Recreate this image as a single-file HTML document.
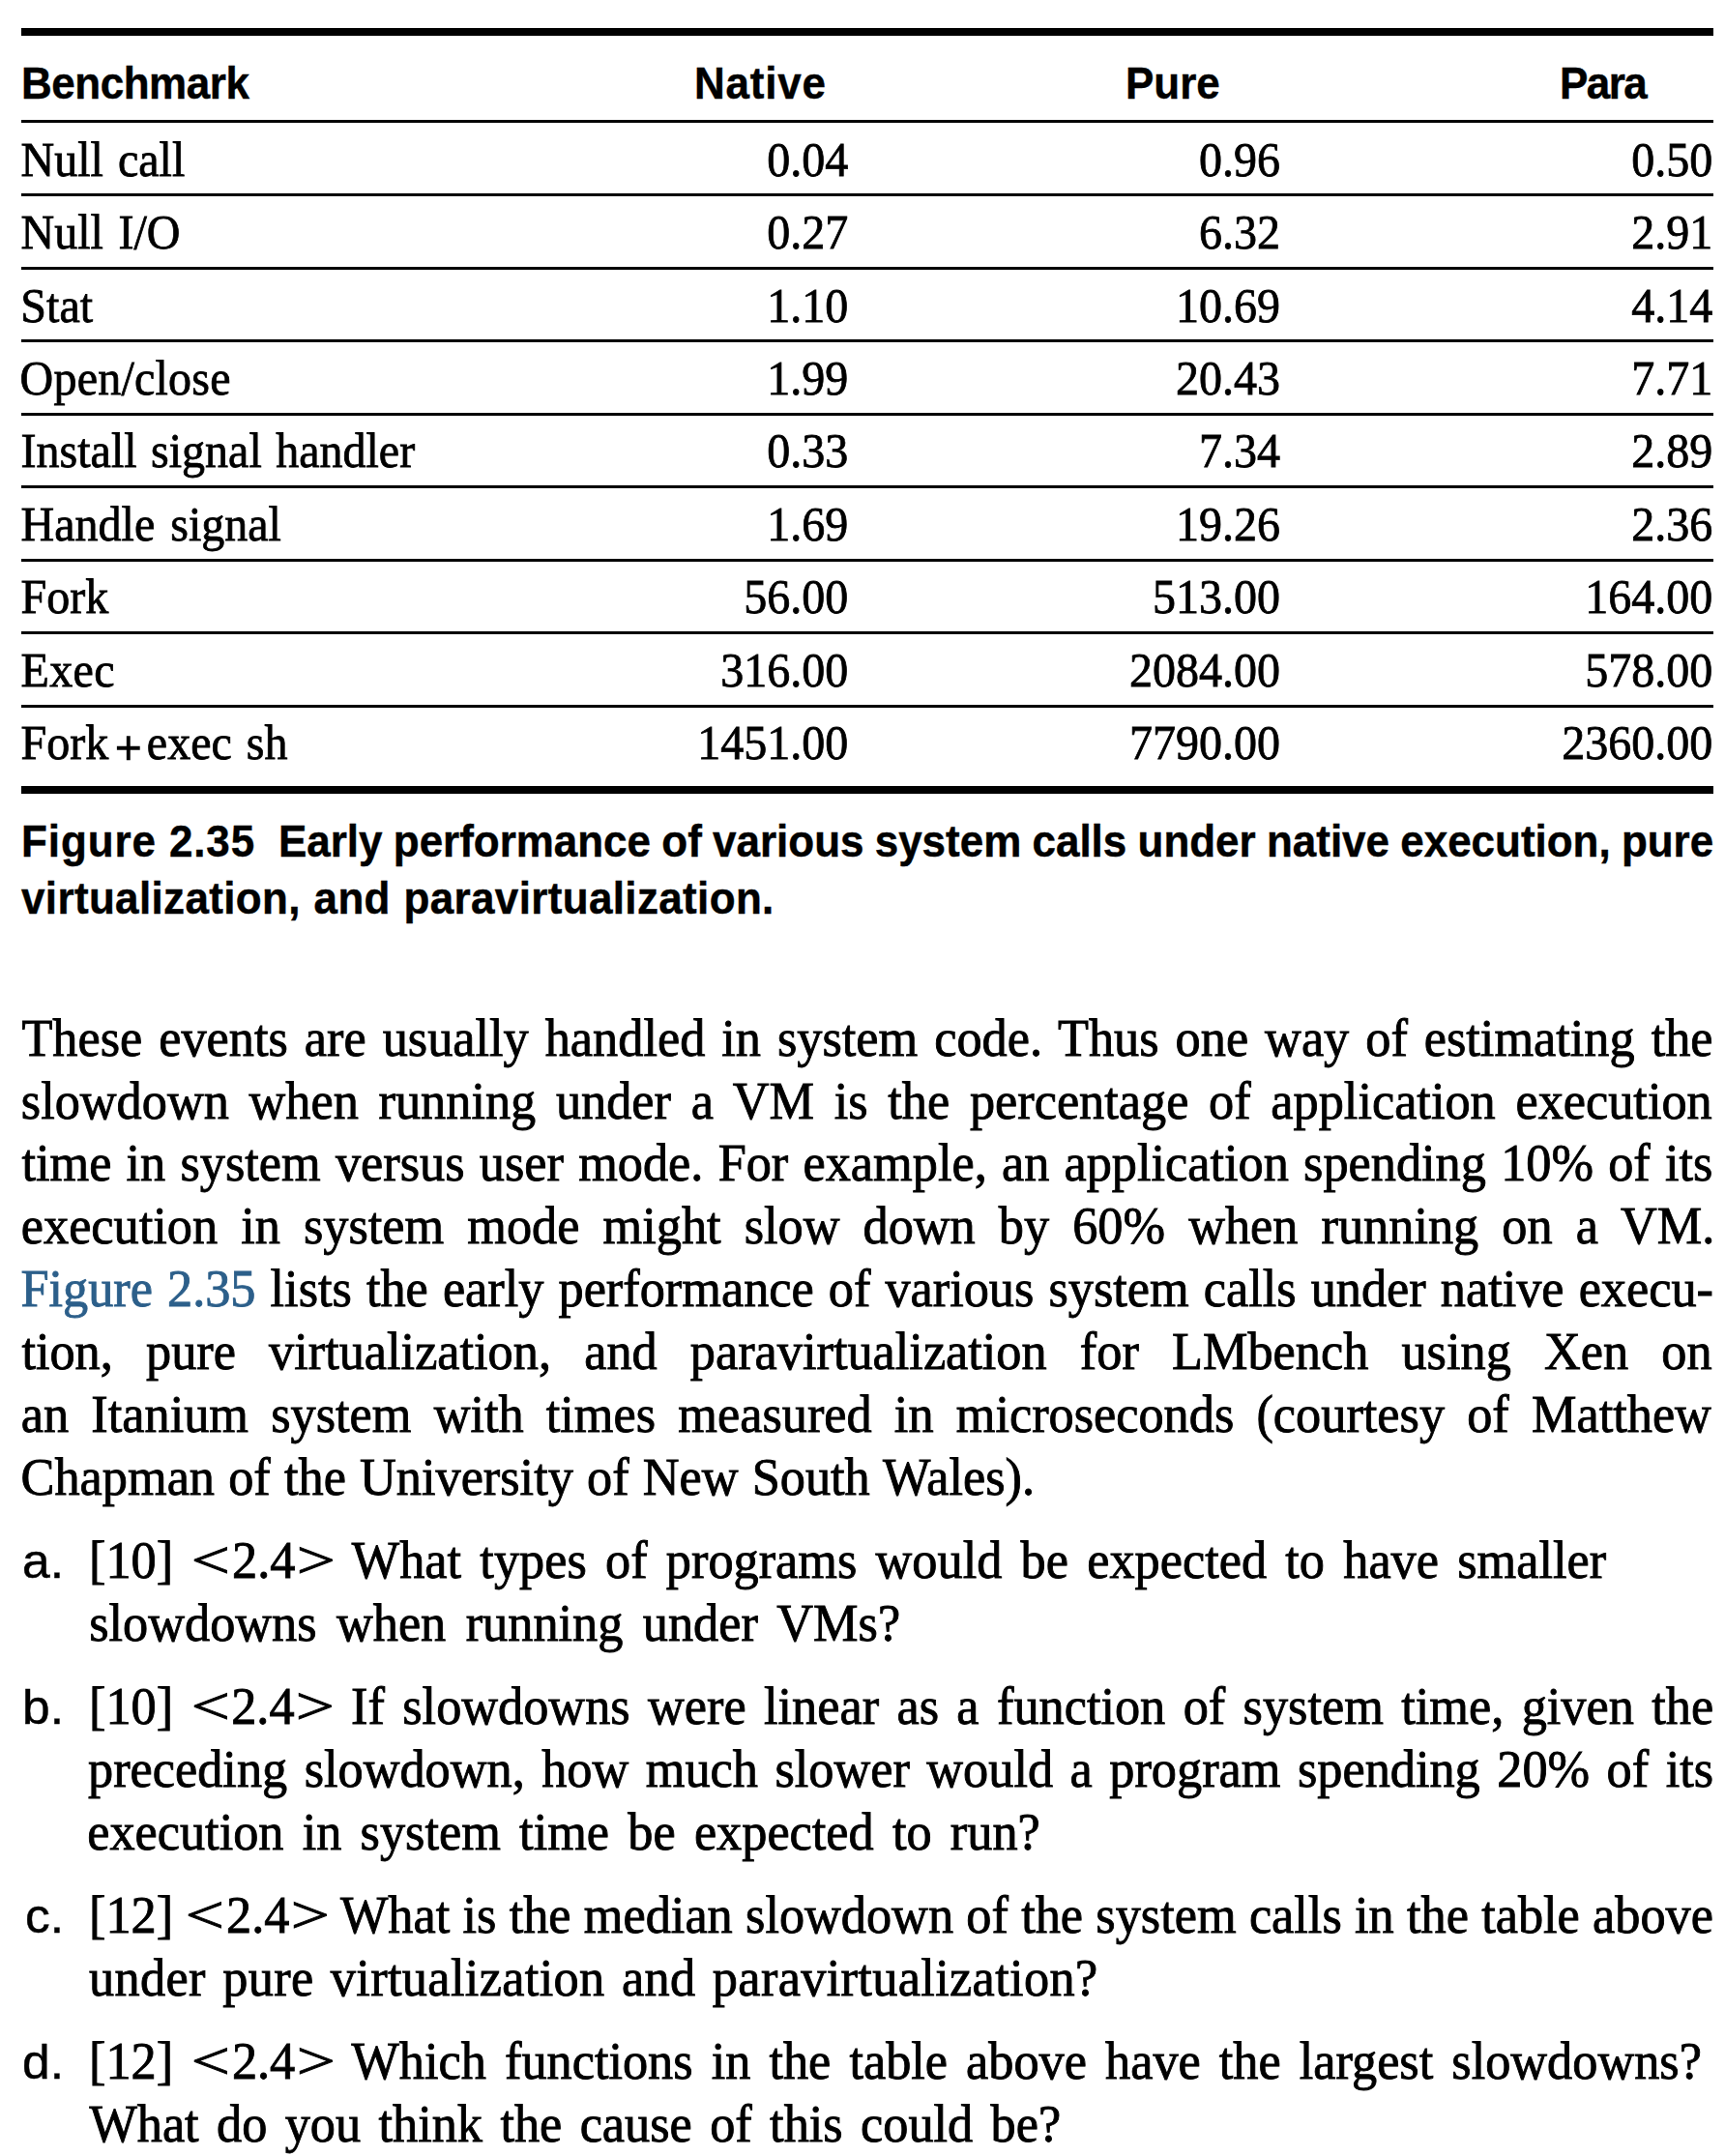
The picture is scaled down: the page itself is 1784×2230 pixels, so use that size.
<!DOCTYPE html>
<html lang="en"><head><meta charset="utf-8"><title>Figure 2.35</title>
<style>
html,body{margin:0;padding:0;background:#fff;}
body{width:1784px;height:2230px;position:relative;overflow:hidden;color:#000;}
.ln{position:absolute;white-space:pre;line-height:60px;height:60px;margin:0;}
.ts{font-family:"Liberation Serif",serif;font-size:48px;-webkit-text-stroke:0.75px;transform:scaleY(1.04);transform-origin:0 46.2px;}
.bs{font-family:"Liberation Serif",serif;font-size:52.3px;-webkit-text-stroke:0.85px;transform:scaleY(1.045);transform-origin:0 47.65px;}
.hb{font-family:"Liberation Sans",sans-serif;font-weight:bold;font-size:46.5px;-webkit-text-stroke:0.45px;transform:scaleX(0.945);transform-origin:0 0;}
.lb{font-family:"Liberation Sans",sans-serif;font-size:49.5px;-webkit-text-stroke:0.45px;transform:scaleX(1.04);transform-origin:100% 0;}
.r{text-align:right;}
.lk{color:#2c5f8a;}
.ab{display:inline-block;transform:scaleX(1.36);}
.al{margin:0 7.2px 0 5px;}
.ar{margin:0 4px 0 6.6px;}
.pl{margin:0 7px 0 5.5px;position:relative;top:5.5px;left:1.5px;-webkit-text-stroke:1.5px;}
.rule{position:absolute;left:22.3px;width:1749.7px;background:#000;}
</style></head><body>

<div class="tbl">
<div class="rule" style="top:28.9px;height:7.8px"></div>
<div class="rule" style="top:124.45px;height:3px"></div>
<div class="rule" style="top:200.01px;height:3px"></div>
<div class="rule" style="top:275.57px;height:3px"></div>
<div class="rule" style="top:351.13px;height:3px"></div>
<div class="rule" style="top:426.69px;height:3px"></div>
<div class="rule" style="top:502.25px;height:3px"></div>
<div class="rule" style="top:577.81px;height:3px"></div>
<div class="rule" style="top:653.37px;height:3px"></div>
<div class="rule" style="top:728.93px;height:3px"></div>
<div class="rule" style="top:813.2px;height:8.2px"></div>
<div class="thead">
<div id="h0" class="ln hb" style="top:55.69px;left:22.30px;letter-spacing:-0.463px;">Benchmark</div>
<div id="h1" class="ln hb" style="top:55.69px;left:718.00px;letter-spacing:0.847px;">Native</div>
<div id="h2" class="ln hb" style="top:55.69px;left:1164.10px;letter-spacing:0.000px;">Pure</div>
<div id="h3" class="ln hb" style="top:55.69px;left:1613.00px;letter-spacing:-1.587px;">Para</div>
</div>
<div class="trow">
<div id="r0l" class="ln ts" style="top:135.60px;left:21.60px;word-spacing:3.000px;">Null call</div>
<div id="r0n0" class="ln ts r" style="top:135.60px;left:277.30px;width:600px;">0.04</div>
<div id="r0n1" class="ln ts r" style="top:135.60px;left:724.00px;width:600px;">0.96</div>
<div id="r0n2" class="ln ts r" style="top:135.60px;left:1171.20px;width:600px;">0.50</div>
</div>
<div class="trow">
<div id="r1l" class="ln ts" style="top:211.07px;left:21.60px;word-spacing:3.500px;">Null I/O</div>
<div id="r1n0" class="ln ts r" style="top:211.07px;left:277.30px;width:600px;">0.27</div>
<div id="r1n1" class="ln ts r" style="top:211.07px;left:724.00px;width:600px;">6.32</div>
<div id="r1n2" class="ln ts r" style="top:211.07px;left:1171.20px;width:600px;">2.91</div>
</div>
<div class="trow">
<div id="r2l" class="ln ts" style="top:286.54px;left:21.20px;letter-spacing:0.100px;">Stat</div>
<div id="r2n0" class="ln ts r" style="top:286.54px;left:277.30px;width:600px;">1.10</div>
<div id="r2n1" class="ln ts r" style="top:286.54px;left:724.00px;width:600px;">10.69</div>
<div id="r2n2" class="ln ts r" style="top:286.54px;left:1171.20px;width:600px;">4.14</div>
</div>
<div class="trow">
<div id="r3l" class="ln ts" style="top:362.01px;left:20.60px;letter-spacing:0.222px;">Open/close</div>
<div id="r3n0" class="ln ts r" style="top:362.01px;left:277.30px;width:600px;">1.99</div>
<div id="r3n1" class="ln ts r" style="top:362.01px;left:724.00px;width:600px;">20.43</div>
<div id="r3n2" class="ln ts r" style="top:362.01px;left:1171.20px;width:600px;">7.71</div>
</div>
<div class="trow">
<div id="r4l" class="ln ts" style="top:437.48px;left:21.60px;word-spacing:2.500px;">Install signal handler</div>
<div id="r4n0" class="ln ts r" style="top:437.48px;left:277.30px;width:600px;">0.33</div>
<div id="r4n1" class="ln ts r" style="top:437.48px;left:724.00px;width:600px;">7.34</div>
<div id="r4n2" class="ln ts r" style="top:437.48px;left:1171.20px;width:600px;">2.89</div>
</div>
<div class="trow">
<div id="r5l" class="ln ts" style="top:512.95px;left:21.60px;word-spacing:4.000px;">Handle signal</div>
<div id="r5n0" class="ln ts r" style="top:512.95px;left:277.30px;width:600px;">1.69</div>
<div id="r5n1" class="ln ts r" style="top:512.95px;left:724.00px;width:600px;">19.26</div>
<div id="r5n2" class="ln ts r" style="top:512.95px;left:1171.20px;width:600px;">2.36</div>
</div>
<div class="trow">
<div id="r6l" class="ln ts" style="top:588.42px;left:21.60px;letter-spacing:0.000px;">Fork</div>
<div id="r6n0" class="ln ts r" style="top:588.42px;left:277.30px;width:600px;">56.00</div>
<div id="r6n1" class="ln ts r" style="top:588.42px;left:724.00px;width:600px;">513.00</div>
<div id="r6n2" class="ln ts r" style="top:588.42px;left:1171.20px;width:600px;">164.00</div>
</div>
<div class="trow">
<div id="r7l" class="ln ts" style="top:663.89px;left:21.60px;letter-spacing:0.333px;">Exec</div>
<div id="r7n0" class="ln ts r" style="top:663.89px;left:277.30px;width:600px;">316.00</div>
<div id="r7n1" class="ln ts r" style="top:663.89px;left:724.00px;width:600px;">2084.00</div>
<div id="r7n2" class="ln ts r" style="top:663.89px;left:1171.20px;width:600px;">578.00</div>
</div>
<div class="trow">
<div id="r8l" class="ln ts" style="top:739.36px;left:21.60px;word-spacing:3.000px;">Fork<span class="pl">+</span>exec sh</div>
<div id="r8n0" class="ln ts r" style="top:739.36px;left:277.30px;width:600px;">1451.00</div>
<div id="r8n1" class="ln ts r" style="top:739.36px;left:724.00px;width:600px;">7790.00</div>
<div id="r8n2" class="ln ts r" style="top:739.36px;left:1171.20px;width:600px;">2360.00</div>
</div>
</div>
<div class="caption">
<div id="k0" class="ln hb" style="top:840.19px;left:21.80px;letter-spacing:0.968px;">Figure 2.35</div>
<div id="k1" class="ln hb" style="top:840.19px;left:288.00px;word-spacing:-0.941px;">Early performance of various system calls under native execution, pure</div>
<div id="k2" class="ln hb" style="top:899.09px;left:22.20px;word-spacing:1.143px;letter-spacing:0.400px;">virtualization, and paravirtualization.</div>
</div>
<div class="para">
<div id="p0" class="ln bs" style="top:1043.65px;left:22.40px;word-spacing:3.915px;">These events are usually handled in system code. Thus one way of estimating the</div>
<div id="p1" class="ln bs" style="top:1108.53px;left:21.80px;word-spacing:7.645px;">slowdown when running under a VM is the percentage of application execution</div>
<div id="p2" class="ln bs" style="top:1173.41px;left:22.40px;word-spacing:2.146px;">time in system versus user mode. For example, an application spending 10% of its</div>
<div id="p3" class="ln bs" style="top:1238.29px;left:21.80px;word-spacing:11.008px;">execution in system mode might slow down by 60% when running on a VM.</div>
<div id="p4" class="ln bs" style="top:1303.17px;left:21.40px;word-spacing:1.992px;"><span class="lk">Figure 2.35</span> lists the early performance of various system calls under native execu-</div>
<div id="p5" class="ln bs" style="top:1368.05px;left:22.40px;word-spacing:21.100px;">tion, pure virtualization, and paravirtualization for LMbench using Xen on</div>
<div id="p6" class="ln bs" style="top:1432.93px;left:21.80px;word-spacing:10.110px;">an Itanium system with times measured in microseconds (courtesy of Matthew</div>
<div id="p7" class="ln bs" style="top:1497.81px;left:21.60px;word-spacing:1.114px;">Chapman of the University of New South Wales).</div>
</div>
<div class="list">
<div class="item">
<div id="la" class="ln lb r" style="top:1584.75px;left:-533.80px;width:600px;">a.</div>
<div id="a1" class="ln bs" style="top:1583.65px;left:92.00px;word-spacing:6.182px;">[10] <span class="ab al">&lt;</span>2.4<span class="ab ar">&gt;</span> What types of programs would be expected to have smaller</div>
<div id="a2" class="ln bs" style="top:1648.55px;left:92.20px;word-spacing:7.350px;">slowdowns when running under VMs?</div>
</div>
<div class="item">
<div id="lb" class="ln lb r" style="top:1735.85px;left:-533.80px;width:600px;">b.</div>
<div id="b1" class="ln bs" style="top:1734.95px;left:92.00px;word-spacing:5.308px;">[10] <span class="ab al">&lt;</span>2.4<span class="ab ar">&gt;</span> If slowdowns were linear as a function of system time, given the</div>
<div id="b2" class="ln bs" style="top:1800.15px;left:91.00px;word-spacing:4.409px;">preceding slowdown, how much slower would a program spending 20% of its</div>
<div id="b3" class="ln bs" style="top:1864.65px;left:90.20px;word-spacing:6.157px;">execution in system time be expected to run?</div>
</div>
<div class="item">
<div id="lc" class="ln lb r" style="top:1951.65px;left:-533.80px;width:600px;">c.</div>
<div id="c1" class="ln bs" style="top:1950.65px;left:92.00px;word-spacing:0.214px;">[12] <span class="ab al">&lt;</span>2.4<span class="ab ar">&gt;</span> What is the median slowdown of the system calls in the table above</div>
<div id="c2" class="ln bs" style="top:2015.65px;left:92.00px;word-spacing:3.934px;letter-spacing:0.349px;">under pure virtualization and paravirtualization?</div>
</div>
<div class="item">
<div id="ld" class="ln lb r" style="top:2102.95px;left:-533.80px;width:600px;">d.</div>
<div id="d1" class="ln bs" style="top:2101.95px;left:92.00px;word-spacing:6.000px;">[12] <span class="ab al">&lt;</span>2.4<span class="ab ar">&gt;</span> Which functions in the table above have the largest slowdowns?</div>
<div id="d2" class="ln bs" style="top:2167.25px;left:92.40px;word-spacing:5.300px;">What do you think the cause of this could be?</div>
</div>
</div>
</body></html>
